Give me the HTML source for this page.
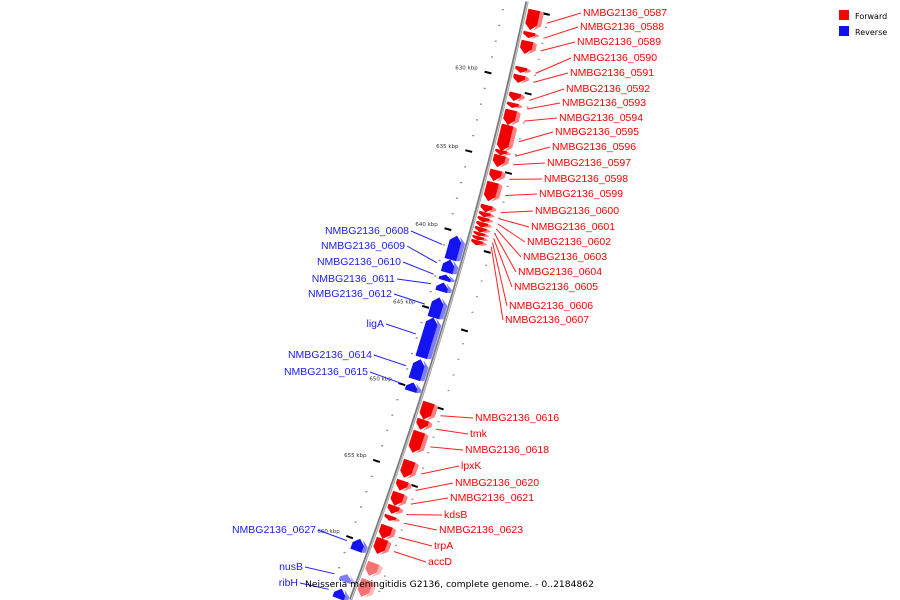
<!DOCTYPE html>
<html><head><meta charset="utf-8"><style>
html,body{margin:0;padding:0;background:#fff;width:900px;height:600px;overflow:hidden;}
svg{display:block;overflow:hidden;font-family:"DejaVu Sans","Liberation Sans",sans-serif;}
</style></head><body>
<svg id="chart" width="900" height="600" viewBox="0 0 900 600" xmlns="http://www.w3.org/2000/svg">
<defs><clipPath id="frame"><rect x="0" y="0" width="900" height="600"/></clipPath></defs>
<g clip-path="url(#frame)">
<g id="ticks"></g>
<g id="backbone"></g>
<g id="genes"></g>
<g id="leaders"></g>
<g id="labels"></g>
<text x="305" y="587" font-size="9.2" fill="#000">Neisseria meningitidis G2136, complete genome. - 0..2184862</text>
<g>
<rect x="839" y="10" width="10" height="10" fill="#ff0000"/>
<text x="855" y="19" font-size="8" fill="#000">Forward</text>
<rect x="839" y="26" width="10" height="10" fill="#1010ff"/>
<text x="855" y="35" font-size="8" fill="#000">Reverse</text>
</g>
</g>
</svg>
<script>
// ---- data (kbp) ----
const geneNames = ["NMBG2136_0587","NMBG2136_0588","NMBG2136_0589","NMBG2136_0590","NMBG2136_0591","NMBG2136_0592","NMBG2136_0593","NMBG2136_0594","NMBG2136_0595","NMBG2136_0596","NMBG2136_0597","NMBG2136_0598","NMBG2136_0599","NMBG2136_0600","NMBG2136_0601","NMBG2136_0602","NMBG2136_0603","NMBG2136_0604","NMBG2136_0605","NMBG2136_0606","NMBG2136_0607","NMBG2136_0608","NMBG2136_0609","NMBG2136_0610","NMBG2136_0611","NMBG2136_0612","ligA","NMBG2136_0614","NMBG2136_0615","NMBG2136_0616","tmk","NMBG2136_0618","lpxK","NMBG2136_0620","NMBG2136_0621","kdsB","NMBG2136_0623","trpA","accD","","","NMBG2136_0627","nusB","ribH"];
const geneStart = [625.61,627.0,627.56,629.2,629.7,630.83,631.46,631.91,632.86,634.44,634.76,635.71,636.48,637.94,638.39,638.71,639.03,639.35,639.67,639.92,640.18,640.24,641.77,642.73,643.24,644.2,645.49,648.19,649.68,650.57,651.67,652.45,654.33,655.62,656.4,657.25,657.9,658.56,659.41,660.98,662.1,659.87,662.2,663.15];
const geneEnd = [626.87,627.37,628.38,629.57,630.2,631.34,631.78,632.86,634.51,634.76,635.52,636.41,637.69,638.39,638.71,639.03,639.35,639.67,639.92,640.18,640.49,641.77,642.6,643.11,643.81,645.5,648.06,649.48,650.25,651.67,652.32,653.81,655.43,656.27,657.25,657.77,658.23,659.41,660.39,661.83,663.2,660.65,662.7,663.8];
const geneStrand = [1,1,1,1,1,1,1,1,1,1,1,1,1,1,1,1,1,1,1,1,1,-1,-1,-1,-1,-1,-1,-1,-1,1,1,1,1,1,1,1,1,1,1,1,1,-1,-1,-1];
const majorTicks = [630,635,640,645,650,655,660];
const tickLabels = ["630 kbp","635 kbp","640 kbp","645 kbp","650 kbp","655 kbp","660 kbp"];
// ---- layout (label anchor positions, px) ----
const labelX = [583,580,577,573,570,566,562,559,555,552,547,544,539,535,531,527,523,518,514,509,505,409,405,401,395,392,384,372,368,475,470,465,461,455,450,444,439,434,428,0,0,316,303,298];
const labelY = [12,26,41,57,72,88,102,117,131,146,162,178,193,210,226,241,256,271,286,305,319,230,245,261,278,293,323,354,371,417,433,449,465,482,497,514,529,545,561,0,0,529,566,582];

// ---- axis: circular arc ----
const CX=-3538, CY=-873, R=4158, RAD=Math.PI/180;
function ang(k){return (13.15+(k-629.7)*0.224)*RAD;}
function P(k,r){const a=ang(k);return [CX+r*Math.cos(a), CY+r*Math.sin(a)];}
function pts(a){return a.map(p=>p[0].toFixed(1)+","+p[1].toFixed(1)).join(" ");}
const NS="http://www.w3.org/2000/svg";
function mk(tag,parent,attrs){const e=document.createElementNS(NS,tag);for(const k in attrs)e.setAttribute(k,attrs[k]);parent.appendChild(e);return e;}

// backbone
const bb=document.getElementById("backbone");
let d="";for(let k=625.2;k<=663.8;k+=0.2){const p=P(k,R);d+=(d?"L":"M")+p[0].toFixed(1)+","+p[1].toFixed(1);}
const bl1=mk("path",bb,{d:d,stroke:"#777",fill:"none","stroke-width":3.2});


const bl2=mk("path",bb,{d:d,stroke:"#c8c8c8",fill:"none","stroke-width":1.2,transform:"translate(0.6,0)"});



// ticks
const tg=document.getElementById("ticks");
for(let k=626;k<=663;k++){
  if(k%5===0) continue;
  const p=P(k,R-22);
  const dot=mk("rect",tg,{x:p[0]-1,y:p[1]-0.6,width:2,height:1.3,fill:"#888"});
  
  
  const q=P(k+0.5,R+24);
  const dot2=mk("rect",tg,{x:q[0]-1,y:q[1]-0.6,width:2,height:1.3,fill:"#999"});
  
  
}
majorTicks.forEach((k,i)=>{
  const a=P(k,R-26),b=P(k,R-19);
  const t=mk("line",tg,{x1:a[0],y1:a[1],x2:b[0],y2:b[1],stroke:"#000","stroke-width":2});
  
  
  const l=P(k,R-33);
  const tx=mk("text",tg,{x:l[0],y:l[1]-0.5,"font-size":5.5,fill:"#333","text-anchor":"end"});
  tx.textContent=tickLabels[i];
  
  
  const c=P(k-4.3,R+18),e=P(k-4.3,R+25);
  const t2=mk("line",tg,{x1:c[0],y1:c[1],x2:e[0],y2:e[1],stroke:"#000","stroke-width":2});
  
  
});
{const k=625.7;const c=P(k,R+18),e=P(k,R+25);
 const t3=mk("line",tg,{x1:c[0],y1:c[1],x2:e[0],y2:e[1],stroke:"#000","stroke-width":2});
 
 }

// genes
const gg=document.getElementById("genes"), lg=document.getElementById("leaders"), lab=document.getElementById("labels");
geneNames.forEach((name,i)=>{
  const s=geneStart[i], e=geneEnd[i], st=geneStrand[i];
  const len=e-s, h=Math.min(0.35,len*0.55);
  const fwd=st>0;
  const r1=fwd?R+3:R-18, r2=fwd?R+15:R-6, rm=(r1+r2)/2;
  let main, side;
  if(fwd){
    main=[P(s,r1),P(s,r2),P(e-h,r2),P(e,rm),P(e-h,r1)];
    side=[P(s,r2),P(s+0.08,r2+4),P(e-h,r2+4),P(e,rm+3),P(e-h,r2)];
  } else {
    main=[P(s+h,r1),P(s,rm),P(s+h,r2),P(e,r2),P(e,r1)];
    side=[P(s+h,r2),P(s,rm+3),P(s+h,r2+4),P(e-0.08,r2+4),P(e,r2)];
  }
  const faded = (i>=39&&i<=40) || name==="nusB";
  const g=mk("g",gg,{opacity:faded?0.55:1});
  
  
  const sp=mk("polygon",g,{points:pts(side),fill:fwd?"#ff8080":"#8080ff"});
  
  
  const mp=mk("polygon",g,{points:pts(main),fill:fwd?"#f00000":"#1414f0"});
  
  
  if(!name) return;
  const mid=(s+e)/2;
  const anchor=P(mid, fwd?R+24:R-24);
  const col=fwd?"#ff2020":"#2020ff";
  const lx=fwd?labelX[i]-2:labelX[i]+2, ly=labelY[i]+1;
  const ln=mk("line",lg,{x1:lx,y1:ly,x2:anchor[0],y2:anchor[1],stroke:col,"stroke-width":1});
  
  
  const t=mk("text",lab,{x:labelX[i],y:labelY[i]+4,"font-size":10.5,"font-family":"Liberation Sans, sans-serif",fill:fwd?"#ff0000":"#1a1aff","text-anchor":fwd?"start":"end"});
  t.textContent=name;
  
  
});
</script>
</body></html>
